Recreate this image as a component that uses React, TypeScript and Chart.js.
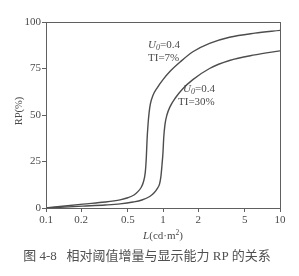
import React, { useEffect, useRef } from "react";
import { Chart, registerables } from "chart.js";

Chart.register(...registerables);

// Tick labels
const xTicks = [0.1, 0.2, 0.5, 1, 2, 5, 10];
const yTicks = [0, 25, 50, 75, 100];

// Series: U0=0.4, TI=7%
const l7 = [0.1, 0.145, 0.207, 0.32, 0.43, 0.5, 0.565, 0.61, 0.65, 0.68, 0.705, 0.72, 0.73, 0.745, 0.76, 0.78, 0.82, 0.89, 1.0, 1.15, 1.4, 1.8, 2.5, 3.7, 6.1, 10];
const rp7 = [0, 1.1, 2.1, 3.2, 4.4, 5.5, 7, 8.8, 11, 14, 19, 27, 36, 45, 51, 56, 60.5, 64.5, 69, 73.5, 78.5, 84, 88.5, 91.8, 94, 95.5];

// Series: U0=0.4, TI=30%
const l30 = [0.1, 0.207, 0.32, 0.43, 0.555, 0.66, 0.77, 0.84, 0.89, 0.935, 0.96, 0.98, 1.0, 1.015, 1.04, 1.08, 1.15, 1.27, 1.47, 1.8, 2.5, 3.7, 6.1, 10];
const rp30 = [0, 1, 1.6, 2.2, 3.2, 4.3, 6.2, 8.2, 10.3, 13, 17, 23, 30, 38, 45, 50, 54.5, 59, 64, 69, 75, 79.3, 82.3, 84.5];

const seriesLabels = ["TI=7%", "TI=30%"];

const LINE = "#4d4d4d";
const TEXT = "#4a4a4a";
const SERIF = "'Liberation Serif', 'DejaVu Serif', serif";

function drawU0(ctx: CanvasRenderingContext2D, x: number, y: number) {
  ctx.font = `italic 11px ${SERIF}`;
  ctx.fillText("U", x, y);
  let w = ctx.measureText("U").width;
  ctx.font = `italic 8px ${SERIF}`;
  ctx.fillText("0", x + w, y + 3);
  w += ctx.measureText("0").width;
  ctx.font = `11px ${SERIF}`;
  ctx.fillText("=0.4", x + w, y);
}

const decorPlugin = {
  id: "decor",
  afterDraw(chart: any) {
    const ctx = chart.ctx as CanvasRenderingContext2D;
    const a = chart.chartArea;
    ctx.save();
    // frame
    ctx.strokeStyle = "#606060";
    ctx.lineWidth = 1;
    ctx.strokeRect(Math.round(a.left) + 0.5, Math.round(a.top) + 0.5, Math.round(a.right - a.left), Math.round(a.bottom - a.top));

    ctx.fillStyle = TEXT;
    ctx.textBaseline = "middle";
    ctx.textAlign = "left";
    // series annotations
    drawU0(ctx, 148, 45);
    ctx.font = `11px ${SERIF}`;
    ctx.fillText(seriesLabels[0], 148, 58);
    drawU0(ctx, 183, 89);
    ctx.font = `11px ${SERIF}`;
    ctx.fillText(seriesLabels[1], 178, 102);

    // y title
    ctx.save();
    ctx.translate(19, 111);
    ctx.rotate(-Math.PI / 2);
    ctx.textAlign = "center";
    ctx.font = `10.5px ${SERIF}`;
    ctx.fillText("RP(%)", 0, 0);
    ctx.restore();

    // x title: L(cd·m²)
    const cx = (a.left + a.right) / 2;
    const ty = 236;
    ctx.font = `italic 11px ${SERIF}`;
    const wL = ctx.measureText("L").width;
    ctx.font = `11px ${SERIF}`;
    const wMid = ctx.measureText("(cd·m").width;
    ctx.font = `7.5px ${SERIF}`;
    const wSup = ctx.measureText("2").width;
    ctx.font = `11px ${SERIF}`;
    const wEnd = ctx.measureText(")").width;
    let sx = cx - (wL + wMid + wSup + wEnd) / 2;
    ctx.font = `italic 11px ${SERIF}`;
    ctx.fillText("L", sx, ty);
    sx += wL;
    ctx.font = `11px ${SERIF}`;
    ctx.fillText("(cd·m", sx, ty);
    sx += wMid;
    ctx.font = `7.5px ${SERIF}`;
    ctx.fillText("2", sx, ty - 3);
    sx += wSup;
    ctx.font = `11px ${SERIF}`;
    ctx.fillText(")", sx, ty);

    // caption
    ctx.textAlign = "center";
    ctx.font = `13px ${SERIF}, 'Noto Sans CJK SC'`;
    ctx.fillStyle = "#505050";
    ctx.fillText("图 4-8   相对阈值增量与显示能力 RP 的关系", 147, 257);
    ctx.restore();
  },
};

export default function App() {
  const ref = useRef<HTMLCanvasElement>(null);
  useEffect(() => {
    if (!ref.current) return;
    const chart = new Chart(ref.current, {
      type: "line",
      data: {
        datasets: [
          {
            label: seriesLabels[0],
            data: l7.map((x, i) => ({ x, y: rp7[i] })),
            borderColor: LINE,
            borderWidth: 1.4,
            pointRadius: 0,
            fill: false,
            cubicInterpolationMode: "monotone",
          },
          {
            label: seriesLabels[1],
            data: l30.map((x, i) => ({ x, y: rp30[i] })),
            borderColor: LINE,
            borderWidth: 1.4,
            pointRadius: 0,
            fill: false,
            cubicInterpolationMode: "monotone",
          },
        ],
      },
      options: {
        animation: false,
        responsive: false,
        layout: { padding: { top: 22, right: 19, left: 0, bottom: 0 } },
        plugins: { legend: { display: false }, tooltip: { enabled: false } },
        scales: {
          x: {
            type: "logarithmic",
            min: 0.1,
            max: 10,
            afterBuildTicks: (s: any) => {
              s.ticks = xTicks.map((v) => ({ value: v }));
            },
            afterFit: (s: any) => {
              s.height = 68;
            },
            ticks: {
              callback: (v: any) => String(v),
              autoSkip: false,
              maxRotation: 0,
              padding: 2,
              color: TEXT,
              font: { family: SERIF, size: 11 },
            },
            grid: { drawOnChartArea: false, drawTicks: true, tickLength: 4, color: "#606060" },
            border: { display: true, color: "#606060" },
          },
          y: {
            type: "linear",
            min: 0,
            max: 100,
            afterBuildTicks: (s: any) => {
              s.ticks = yTicks.map((v) => ({ value: v }));
            },
            afterFit: (s: any) => {
              s.width = 46;
            },
            ticks: {
              padding: 1,
              color: TEXT,
              font: { family: SERIF, size: 11 },
            },
            grid: { drawOnChartArea: false, drawTicks: true, tickLength: 4, color: "#606060" },
            border: { display: true, color: "#606060" },
          },
        },
      },
      plugins: [decorPlugin],
    });
    return () => chart.destroy();
  }, []);
  return (
    <div style={{ position: "fixed", left: 0, top: 0, width: 299, height: 276, background: "#fff" }}>
      <canvas ref={ref} width={299} height={276} style={{ width: 299, height: 276, display: "block" }} />
    </div>
  );
}
